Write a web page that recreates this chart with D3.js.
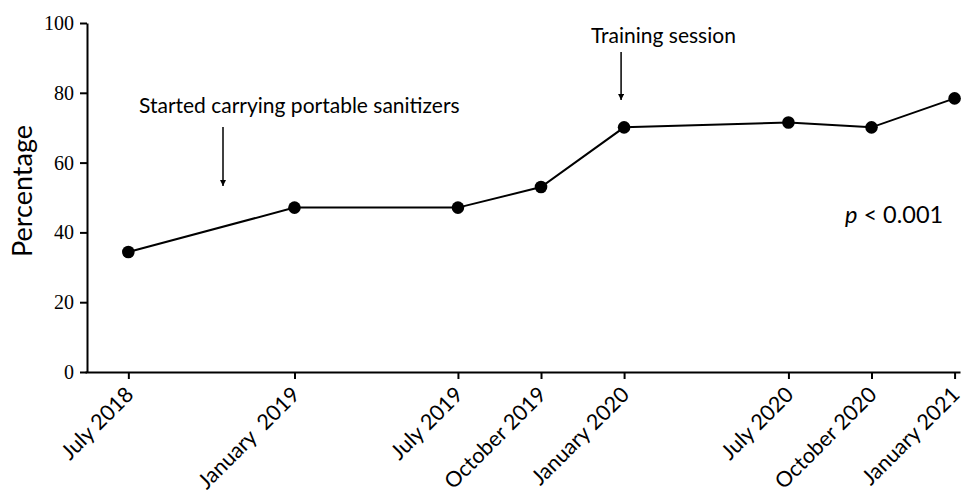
<!DOCTYPE html>
<html>
<head>
<meta charset="utf-8">
<script src="https://cdn.jsdelivr.net/npm/d3@7"></script>
<style>
  body { margin: 0; background: #fff; }
  svg { display: block; }
</style>
</head>
<body>
<svg width="966" height="495"></svg>
<script>
// survey rounds and share (%) of respondents
let dates = [new Date(2018, 6, 1), new Date(2019, 0, 1), new Date(2019, 6, 1), new Date(2019, 9, 1),
             new Date(2020, 0, 1), new Date(2020, 6, 1), new Date(2020, 9, 1), new Date(2021, 0, 1)];
let labels = ['July 2018', 'January  2019', 'July 2019', 'October 2019', 'January 2020', 'July 2020', 'October 2020', 'January 2021'];
let values = [34.4, 47.1, 47.1, 53.0, 70.1, 71.5, 70.1, 78.4];
let yTicks = [0, 20, 40, 60, 80, 100];

const svg = d3.select('svg');
const sans = 'Lato, "Open Sans", sans-serif';

let x = d3.scaleTime()
    .domain([new Date(2018, 4, 14), new Date(2021, 0, 7)])
    .range([85, 960]);

let y = d3.scaleLinear().domain([0, 100]).range([372, 23]);

// y axis
let yAxis = svg.append('g')
    .attr('transform', 'translate(87,0)')
    .call(d3.axisLeft(y).tickValues(yTicks).tickSize(7).tickSizeOuter(0));
yAxis.select('.domain').attr('stroke-width', 2);
yAxis.selectAll('.tick line').attr('stroke-width', 2);
yAxis.selectAll('.tick text')
    .attr('font-family', '"Liberation Serif", "Times New Roman", serif')
    .attr('font-size', 20)
    .attr('fill', '#000')
    .attr('x', -13);

// x axis
let xAxis = svg.append('g')
    .attr('transform', 'translate(0,372)')
    .call(d3.axisBottom(x).tickValues(dates).tickSize(7).tickSizeOuter(0)
        .tickFormat((d, i) => labels[i]));
xAxis.select('.domain').attr('stroke-width', 2);
xAxis.selectAll('.tick line').attr('stroke-width', 2);
xAxis.selectAll('.tick text')
    .attr('font-family', sans)
    .attr('font-size', 21.5)
    .attr('fill', '#000')
    .attr('text-anchor', 'end')
    .style('white-space', 'pre')
    .attr('x', 0).attr('y', 0).attr('dy', 0)
    .attr('transform', 'translate(6,24) rotate(-45)');

// y label
svg.append('text')
    .attr('transform', 'translate(32,191) rotate(-90)')
    .attr('text-anchor', 'middle')
    .attr('font-family', sans)
    .attr('font-size', 27)
    .text('Percentage');

// line + points
let pts = dates.map((d, i) => [x(d), y(values[i])]);

svg.append('path')
    .attr('d', d3.line()(pts))
    .attr('fill', 'none')
    .attr('stroke', '#000')
    .attr('stroke-width', 2);

svg.selectAll('circle.pt')
    .data(pts)
    .enter()
    .append('circle')
    .attr('class', 'pt')
    .attr('cx', d => d[0])
    .attr('cy', d => d[1])
    .attr('r', 6.3)
    .attr('fill', '#000');

// annotations
svg.append('defs').append('marker')
    .attr('id', 'arr')
    .attr('viewBox', '0 0 10 10')
    .attr('refX', 10).attr('refY', 5)
    .attr('markerWidth', 6).attr('markerHeight', 6)
    .attr('markerUnits', 'userSpaceOnUse')
    .attr('orient', 'auto')
    .append('path')
    .attr('d', 'M0,0L10,5L0,10z')
    .attr('fill', '#000');

function note(txt, tx, ty, ax, ay1, ay2) {
    svg.append('text')
        .attr('x', tx).attr('y', ty)
        .attr('font-family', sans)
        .attr('font-size', 21)
        .text(txt);
    svg.append('line')
        .attr('x1', ax).attr('x2', ax)
        .attr('y1', ay1).attr('y2', ay2)
        .attr('stroke', '#000')
        .attr('stroke-width', 1.5)
        .attr('marker-end', 'url(#arr)');
}

note('Started carrying portable sanitizers', 139, 113, 223, 127, 186);
note('Training session', 591, 43, x(dates[4]) - 3, 52, 100);

let pv = svg.append('text')
    .attr('x', 845).attr('y', 223)
    .attr('font-family', sans)
    .attr('font-size', 23.5);
pv.append('tspan').attr('font-style', 'italic').text('p');
pv.append('tspan').text(' < 0.001');
</script>
</body>
</html>
